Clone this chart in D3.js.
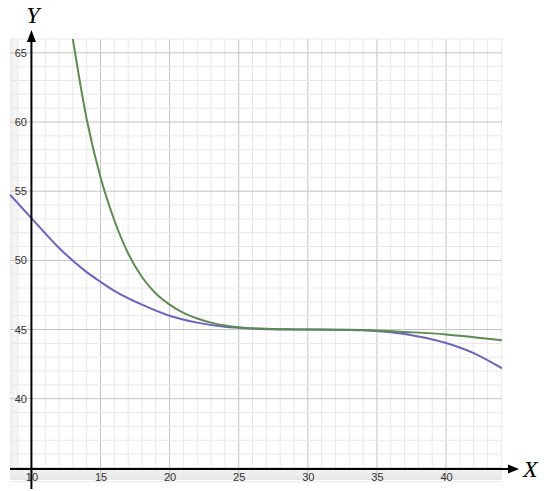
<!DOCTYPE html>
<html>
<head>
<meta charset="utf-8">
<script src="https://cdn.jsdelivr.net/npm/d3@7"></script>
<style>
  body { margin: 0; background: #fff; }
  .tick text { font-family: "Liberation Sans", Arial, sans-serif; font-size: 11px; fill: #333; }
</style>
</head>
<body>
<div id="chart"></div>
<script>
// values
var xTicks = [10, 15, 20, 25, 30, 35, 40];
var yTicks = [40, 45, 50, 55, 60, 65];

var greenX = [12.9, 14, 15, 16, 17, 18, 19, 20, 21, 22, 23, 24, 25, 27, 30, 33, 35, 37, 40, 42, 44.05];
var greenY = [66.6, 60.2, 56.0, 52.9, 50.5, 48.8, 47.6, 46.8, 46.2, 45.8, 45.5, 45.3, 45.17, 45.05, 45.0, 44.98, 44.93, 44.83, 44.65, 44.45, 44.22];

var purpleX = [8.45, 10, 12, 14, 15, 16, 18, 20, 22, 24, 26, 28, 30, 32, 34, 36, 38, 40, 42, 44.05];
var purpleY = [54.75, 53.05, 50.9, 49.15, 48.45, 47.8, 46.8, 46.0, 45.5, 45.2, 45.07, 45.01, 45.0, 44.99, 44.94, 44.8, 44.5, 44.03, 43.3, 42.2];

var svgWidth = 550, svgHeight = 491;
// plot box (grid area above the x axis) - note: "top" is taken by window.top
var plotLeft = 10, plotRight = 502, plotTop = 39, axisY = 469, stripBottom = 480;

var svg = d3.select("#chart").append("svg")
  .attr("width", svgWidth)
  .attr("height", svgHeight);

var x = d3.scaleLinear().domain([8.45, 44.05]).range([plotLeft, plotRight]);
var y = d3.scaleLinear().domain([34.92, 66.0]).range([axisY, plotTop]);

var defs = svg.append("defs");
var gb = defs.append("linearGradient").attr("id", "gb").attr("x1", 0).attr("y1", 0).attr("x2", 0).attr("y2", 1);
gb.append("stop").attr("offset", "0%").attr("stop-color", "#f3f3f3");
gb.append("stop").attr("offset", "100%").attr("stop-color", "#e6e6e6");
var gl = defs.append("linearGradient").attr("id", "gl").attr("x1", 0).attr("y1", 0).attr("x2", 1).attr("y2", 0);
gl.append("stop").attr("offset", "0%").attr("stop-color", "#ececec");
gl.append("stop").attr("offset", "100%").attr("stop-color", "#ffffff").attr("stop-opacity", 0);
defs.append("clipPath").attr("id", "clip").append("rect")
  .attr("x", plotLeft).attr("y", plotTop).attr("width", plotRight - plotLeft).attr("height", axisY - plotTop);

// light shading at the edges
svg.append("rect").attr("x", plotLeft).attr("y", axisY).attr("width", plotRight - plotLeft).attr("height", stripBottom - axisY).attr("fill", "url(#gb)");
svg.append("rect").attr("x", plotLeft).attr("y", plotTop).attr("width", 18).attr("height", axisY - plotTop).attr("fill", "url(#gl)");

// minor grid every 1, major every 5
var minorX = d3.range(9, 45, 1), minorY = d3.range(34, 67, 1);
var grid = svg.append("g");
grid.selectAll(".v").data(minorX).enter().append("line")
  .attr("x1", d => x(d)).attr("x2", d => x(d))
  .attr("y1", plotTop).attr("y2", stripBottom)
  .attr("stroke", d => d % 5 === 0 ? "#c4c4c4" : "#e8e8e8")
  .attr("stroke-width", 1);
grid.selectAll(".h").data(minorY).enter().append("line")
  .attr("x1", plotLeft).attr("x2", plotRight)
  .attr("y1", d => y(d)).attr("y2", d => y(d))
  .attr("stroke", d => d % 5 === 0 ? "#c4c4c4" : "#e8e8e8")
  .attr("stroke-width", 1);

// curves
var line = d3.line().curve(d3.curveMonotoneX)
  .x(d => x(d[0])).y(d => y(d[1]));

var curves = svg.append("g").attr("clip-path", "url(#clip)");
curves.append("path")
  .datum(d3.zip(purpleX, purpleY))
  .attr("d", line)
  .attr("fill", "none")
  .attr("stroke", "#6c61c8")
  .attr("stroke-width", 2);
curves.append("path")
  .datum(d3.zip(greenX, greenY))
  .attr("d", line)
  .attr("fill", "none")
  .attr("stroke", "#5b8d4f")
  .attr("stroke-width", 2);

// tick labels
var xAxis = d3.axisBottom(x).tickValues(xTicks).tickSize(0).tickPadding(4);
svg.append("g").attr("transform", "translate(0," + axisY + ")").call(xAxis)
  .call(g => g.select(".domain").remove());
var yAxis = d3.axisLeft(y).tickValues(yTicks).tickSize(0).tickPadding(0);
svg.append("g").attr("transform", "translate(27,0)").call(yAxis)
  .call(g => g.select(".domain").remove());

// axis lines with arrows
var x0 = x(10);
svg.append("line").attr("x1", plotLeft).attr("x2", 510).attr("y1", axisY).attr("y2", axisY)
  .attr("stroke", "#000").attr("stroke-width", 2);
svg.append("path").attr("d", "M508," + (axisY - 4.5) + "L519," + axisY + "L508," + (axisY + 4.5) + "Z").attr("fill", "#000");
svg.append("line").attr("x1", x0).attr("x2", x0).attr("y1", 40).attr("y2", 489)
  .attr("stroke", "#000").attr("stroke-width", 2);
svg.append("path").attr("d", "M" + (x0 - 4.5) + ",42L" + x0 + ",30L" + (x0 + 4.5) + ",42Z").attr("fill", "#000");

svg.append("text").attr("x", 33).attr("y", 23).attr("text-anchor", "middle")
  .attr("font-family", "Liberation Serif, DejaVu Serif, serif").attr("font-style", "italic")
  .attr("font-size", 24).text("Y");
svg.append("text").attr("x", 523).attr("y", 477)
  .attr("font-family", "Liberation Serif, DejaVu Serif, serif").attr("font-style", "italic")
  .attr("font-size", 24).text("X");
</script>
</body>
</html>
